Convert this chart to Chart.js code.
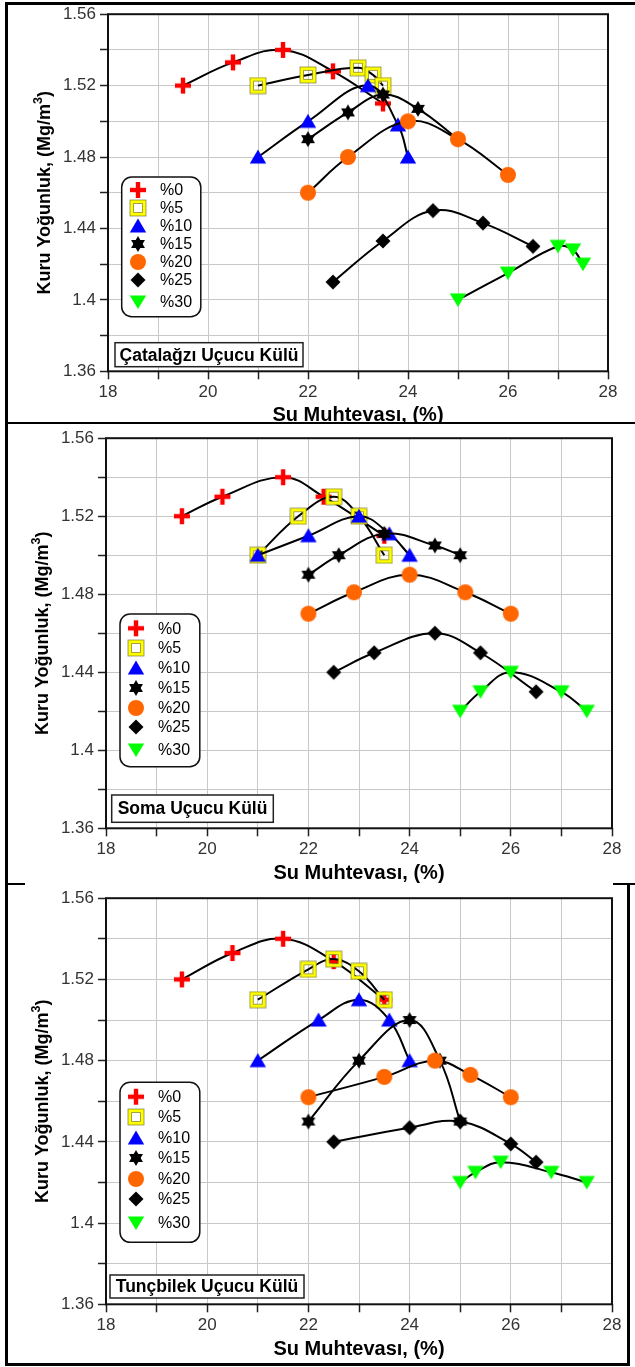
<!DOCTYPE html>
<html>
<head>
<meta charset="utf-8">
<script src="https://cdn.jsdelivr.net/npm/chart.js@4/dist/chart.umd.min.js"></script>
<style>
  html, body { margin: 0; padding: 0; background: #fff; }
  #page { position: relative; width: 635px; height: 1367px; overflow: hidden; background: #fff; }
  #page canvas { position: absolute; left: 0; }
  .rule { position: absolute; background: #000; }
</style>
</head>
<body>
<div id="page">
  <canvas id="c1" width="635" height="424" style="top:0px"></canvas>
  <canvas id="c2" width="635" height="460" style="top:424px"></canvas>
  <canvas id="c3" width="635" height="483" style="top:884px"></canvas>
  <div class="rule" style="left:5px;top:2px;width:630px;height:3px"></div>
  <div class="rule" style="left:5px;top:2px;width:3px;height:1364px"></div>
  <div class="rule" style="left:5px;top:422px;width:630px;height:2px"></div>
  <div class="rule" style="left:5px;top:883px;width:20px;height:2px"></div>
  <div class="rule" style="left:613px;top:883px;width:22px;height:2px"></div>
  <div class="rule" style="left:5px;top:1363px;width:625px;height:3px"></div>
  <div class="rule" style="left:627px;top:884px;width:3px;height:482px"></div>
</div>
<script>
// series names (fly ash ratio)
const seriesLabels = ['%0', '%5', '%10', '%15', '%20', '%25', '%30'];

// Çatalağzı - water content (%) / dry density (Mg/m3)
const catalagziX = [
  [19.5, 20.5, 21.5, 22.5, 23.5],
  [21, 22, 23, 23.3, 23.5],
  [21, 22, 23.2, 23.8, 24],
  [22, 22.8, 23.5, 24.2, 25],
  [22, 22.8, 24, 25, 26],
  [22.5, 23.5, 24.5, 25.5, 26.5],
  [25, 26, 27, 27.3, 27.5]
];
const catalagziY = [
  [1.52, 1.533, 1.54, 1.528, 1.51],
  [1.52, 1.526, 1.53, 1.526, 1.52],
  [1.48, 1.50, 1.52, 1.498, 1.48],
  [1.49, 1.505, 1.515, 1.507, 1.49],
  [1.46, 1.48, 1.50, 1.49, 1.47],
  [1.41, 1.433, 1.45, 1.443, 1.43],
  [1.40, 1.415, 1.43, 1.428, 1.42]
];

// Soma
const somaX = [
  [19.5, 20.3, 21.5, 22.3, 23.5],
  [21, 21.8, 22.5, 23, 23.5],
  [21, 22, 23, 23.6, 24],
  [22, 22.6, 23.5, 24.5, 25],
  [22, 22.9, 24, 25.1, 26],
  [22.5, 23.3, 24.5, 25.4, 26.5],
  [25, 25.4, 26, 27, 27.5]
];
const somaY = [
  [1.52, 1.53, 1.54, 1.53, 1.51],
  [1.50, 1.52, 1.53, 1.52, 1.50],
  [1.50, 1.51, 1.52, 1.511, 1.50],
  [1.49, 1.50, 1.511, 1.505, 1.50],
  [1.47, 1.481, 1.49, 1.481, 1.47],
  [1.44, 1.45, 1.46, 1.45, 1.43],
  [1.42, 1.43, 1.44, 1.43, 1.42]
];

// Tunçbilek
const tuncbilekX = [
  [19.5, 20.5, 21.5, 22.5, 23.5],
  [21, 22, 22.5, 23, 23.5],
  [21, 22.2, 23, 23.6, 24],
  [22, 23, 24, 24.6, 25],
  [22, 23.5, 24.5, 25.2, 26],
  [22.5, 24, 25, 26, 26.5],
  [25, 25.3, 25.8, 26.8, 27.5]
];
const tuncbilekY = [
  [1.52, 1.533, 1.54, 1.529, 1.51],
  [1.51, 1.525, 1.53, 1.524, 1.51],
  [1.48, 1.50, 1.51, 1.50, 1.48],
  [1.45, 1.48, 1.50, 1.48, 1.45],
  [1.462, 1.472, 1.48, 1.473, 1.462],
  [1.44, 1.447, 1.45, 1.439, 1.43],
  [1.42, 1.425, 1.43, 1.425, 1.42]
];

const FONT = '"Liberation Sans", Arial, sans-serif';

// marker sprites, one per series
function makeMarker(kind) {
  var c = document.createElement('canvas');
  c.width = 18; c.height = 18;
  var g = c.getContext('2d');
  g.beginPath();
  if (kind === 'cross') {
    g.fillStyle = '#ff0000';
    g.fillRect(6.8, 1, 4.4, 16);
    g.fillRect(1, 6.8, 16, 4.4);
  } else if (kind === 'square') {
    g.strokeStyle = '#ffff00';
    g.lineWidth = 3.6;
    g.strokeRect(2.8, 2.8, 12.4, 12.4);
    g.strokeStyle = 'rgba(90,90,40,0.7)';
    g.lineWidth = 0.8;
    g.strokeRect(1, 1, 16, 16);
    g.strokeRect(4.6, 4.6, 8.8, 8.8);
  } else if (kind === 'up') {
    g.fillStyle = '#0000ff';
    g.moveTo(9, 1.5); g.lineTo(17.2, 15.5); g.lineTo(0.8, 15.5);
    g.closePath(); g.fill();
  } else if (kind === 'star') {
    g.fillStyle = '#000';
    for (var t = 0; t < 2; t++) {
      g.beginPath();
      for (var k = 0; k < 3; k++) {
        var a = -Math.PI / 2 + t * Math.PI / 3 + k * 2 * Math.PI / 3;
        var px = 9 + 8 * Math.cos(a), py = 9 + 8 * Math.sin(a);
        if (k === 0) g.moveTo(px, py); else g.lineTo(px, py);
      }
      g.closePath(); g.fill();
    }
  } else if (kind === 'circle') {
    g.fillStyle = '#ff6600';
    g.arc(9, 9, 8, 0, Math.PI * 2);
    g.fill();
  } else if (kind === 'diamond') {
    g.fillStyle = '#000';
    g.moveTo(9, 1.5); g.lineTo(16.5, 9); g.lineTo(9, 16.5); g.lineTo(1.5, 9);
    g.closePath(); g.fill();
  } else if (kind === 'down') {
    g.fillStyle = '#00ff00';
    g.moveTo(0.8, 2.5); g.lineTo(17.2, 2.5); g.lineTo(9, 16);
    g.closePath(); g.fill();
  }
  return c;
}

var markers = ['cross', 'square', 'up', 'star', 'circle', 'diamond', 'down'].map(makeMarker);

function buildDatasets(xs, ys) {
  return seriesLabels.map(function (label, i) {
    return {
      label: label,
      data: xs[i].map(function (x, j) { return { x: x, y: ys[i][j] }; }),
      showLine: true,
      borderColor: '#000',
      borderWidth: 2,
      tension: 0.4,
      pointStyle: markers[i],
      pointRadius: 8,
      pointHoverRadius: 8,
      order: seriesLabels.length - i   // later series drawn on top
    };
  });
}

function drawYTitle(ctx, cx, cy) {
  var a = 'Kuru Yoğunluk, (Mg/m', b = '3', c = ')';
  var main = 'bold 18px ' + FONT, sup = 'bold 12.5px ' + FONT;
  ctx.save();
  ctx.translate(cx, cy);
  ctx.rotate(-Math.PI / 2);
  ctx.fillStyle = '#000';
  ctx.textBaseline = 'middle';
  ctx.textAlign = 'left';
  ctx.font = main;
  var wa = ctx.measureText(a).width, wc = ctx.measureText(c).width;
  ctx.font = sup;
  var wb = ctx.measureText(b).width;
  var x = -(wa + wb + wc) / 2;
  ctx.font = main; ctx.fillText(a, x, 0); x += wa;
  ctx.font = sup; ctx.fillText(b, x, -6); x += wb;
  ctx.font = main; ctx.fillText(c, x, 0);
  ctx.restore();
}

function roundRect(ctx, x1, y1, x2, y2, r) {
  ctx.beginPath();
  ctx.moveTo(x1 + r, y1);
  ctx.lineTo(x2 - r, y1);
  ctx.arcTo(x2, y1, x2, y1 + r, r);
  ctx.lineTo(x2, y2 - r);
  ctx.arcTo(x2, y2, x2 - r, y2, r);
  ctx.lineTo(x1 + r, y2);
  ctx.arcTo(x1, y2, x1, y2 - r, r);
  ctx.lineTo(x1, y1 + r);
  ctx.arcTo(x1, y1, x1 + r, y1, r);
  ctx.closePath();
}

function decor(p) {
  return {
    id: 'decor',
    beforeDatasetsDraw: function (chart) {
      var ctx = chart.ctx, a = chart.chartArea;
      ctx.save();
      ctx.strokeStyle = '#111';
      ctx.lineWidth = 2;
      ctx.strokeRect(a.left, a.top, a.right - a.left, a.bottom - a.top);
      ctx.restore();
    },
    afterDraw: function (chart) {
      var ctx = chart.ctx, a = chart.chartArea;
      ctx.save();
      // legend box
      var lg = p.legend;
      roundRect(ctx, lg.x1, lg.y1, lg.x2, lg.y2, 10);
      ctx.fillStyle = '#fff';
      ctx.fill();
      ctx.strokeStyle = '#111';
      ctx.lineWidth = 1.5;
      ctx.stroke();
      ctx.font = '16px ' + FONT;
      ctx.textBaseline = 'middle';
      ctx.textAlign = 'left';
      ctx.fillStyle = '#000';
      seriesLabels.forEach(function (label, i) {
        var yy = lg.items[i];
        ctx.drawImage(markers[i], lg.mx - 9, yy - 9);
        ctx.fillText(label, lg.tx, yy + 1);
      });
      // ash name box
      var tb = p.titleBox;
      ctx.fillStyle = '#fff';
      ctx.fillRect(tb.x1, tb.y1, tb.x2 - tb.x1, tb.y2 - tb.y1);
      ctx.strokeStyle = '#222';
      ctx.lineWidth = 1.5;
      ctx.strokeRect(tb.x1, tb.y1, tb.x2 - tb.x1, tb.y2 - tb.y1);
      ctx.fillStyle = '#000';
      ctx.font = 'bold 17.5px ' + FONT;
      ctx.textAlign = 'center';
      ctx.fillText(tb.text, (tb.x1 + tb.x2) / 2, (tb.y1 + tb.y2) / 2 + 1);
      // axis titles
      ctx.font = 'bold 20px ' + FONT;
      ctx.fillText('Su Muhtevası, (%)', (a.left + a.right) / 2, p.xTitleY);
      ctx.restore();
      drawYTitle(ctx, p.yTitleX, (a.top + a.bottom) / 2);
    }
  };
}

function makePanel(id, p, xs, ys) {
  var tickFont = { family: FONT, size: 17 };
  return new Chart(document.getElementById(id), {
    type: 'scatter',
    data: { datasets: buildDatasets(xs, ys) },
    options: {
      responsive: false,
      animation: false,
      layout: { padding: { top: p.T, right: 635 - p.R, left: 0, bottom: 0 } },
      plugins: { legend: { display: false }, tooltip: { enabled: false } },
      scales: {
        x: {
          type: 'linear', min: 18, max: 28,
          border: { display: false },
          grid: { color: '#c8c8c8', lineWidth: 1, tickLength: 8, tickColor: '#222', tickWidth: 1.5 },
          ticks: {
            stepSize: 1, autoSkip: false, maxRotation: 0, padding: 3,
            color: '#333', font: tickFont,
            callback: function (v) { return v % 2 === 0 ? String(v) : ''; }
          },
          afterFit: function (s) { s.height = p.H - p.B; }
        },
        y: {
          type: 'linear', min: 1.36, max: 1.56,
          border: { display: false },
          grid: { color: '#c8c8c8', lineWidth: 1, tickLength: 8, tickColor: '#222', tickWidth: 1.5 },
          ticks: {
            stepSize: 0.02, autoSkip: false, padding: 4,
            color: '#333', font: tickFont,
            callback: function (v) {
              var k = Math.round((v - 1.36) / 0.02);
              return k % 2 === 0 ? String(+v.toFixed(2)) : '';
            }
          },
          afterFit: function (s) { s.width = p.L; }
        }
      }
    },
    plugins: [decor(p)]
  });
}

makePanel('c1', {
  L: 108, R: 608, T: 13.3, B: 371.3, H: 424, xTitleY: 415, yTitleX: 45,
  legend: { x1: 121.7, x2: 200.8, y1: 177, y2: 316.7, mx: 138, tx: 160,
            items: [190, 208, 226, 244, 262, 280, 302] },
  titleBox: { x1: 115, x2: 303, y1: 342.7, y2: 366.7, text: 'Çatalağzı Uçucu Külü' }
}, catalagziX, catalagziY);

makePanel('c2', {
  L: 106, R: 612, T: 10.3, B: 404.3, H: 460, xTitleY: 449, yTitleX: 43,
  legend: { x1: 120, x2: 199.8, y1: 190, y2: 342.7, mx: 136, tx: 158,
            items: [204.3, 224, 244, 264, 284, 303, 326] },
  titleBox: { x1: 111.7, x2: 273.3, y1: 371, y2: 398.3, text: 'Soma Uçucu Külü' }
}, somaX, somaY);

makePanel('c3', {
  L: 106, R: 612, T: 10, B: 420.3, H: 483, xTitleY: 465, yTitleX: 43,
  legend: { x1: 120, x2: 199.8, y1: 198.3, y2: 358.3, mx: 136, tx: 158,
            items: [212.7, 233, 254, 274, 295, 315, 339] },
  titleBox: { x1: 110, x2: 304, y1: 391, y2: 414, text: 'Tunçbilek Uçucu Külü' }
}, tuncbilekX, tuncbilekY);
</script>
</body>
</html>
